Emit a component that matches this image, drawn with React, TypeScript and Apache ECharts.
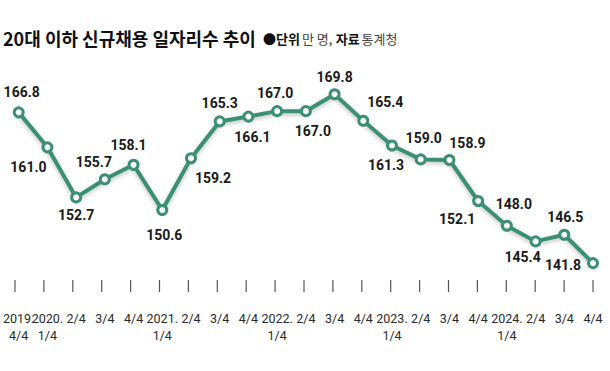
import React, { useEffect, useRef } from "react";
import * as echarts from "echarts";

const categories = [
  "2019.\n4/4", "2020.\n1/4", "2/4", "3/4", "4/4",
  "2021.\n1/4", "2/4", "3/4", "4/4",
  "2022.\n1/4", "2/4", "3/4", "4/4",
  "2023.\n1/4", "2/4", "3/4", "4/4",
  "2024.\n1/4", "2/4", "3/4", "4/4",
];
const values = [
  166.8, 161.0, 152.7, 155.7, 158.1, 150.6, 159.2, 165.3, 166.1, 167.0, 167.0,
  169.8, 165.4, 161.3, 159.0, 158.9, 152.1, 148.0, 145.4, 146.5, 141.8,
];
// label offsets (dx, dy) of each value label from its point
const labelOffsets: [number, number][] = [
  [3, -20], [-19, 20], [0, 18], [-11, -17], [-5, -20], [2, 25], [22, 20],
  [0, -18], [4, 20], [-2, -18], [7, 20], [0, -17], [22, -19], [-6, 19],
  [3, -21], [18, -17], [-21, 18], [7, -22], [-13, 16], [1, -18], [-30, 2],
];
const titleText = "20대 이하 신규채용 일자리수 추이";

const GREEN = "#3a8f74";
const KR_FONT = "'Noto Sans CJK KR', sans-serif";
const NUM_FONT = "Roboto, 'Liberation Sans', sans-serif";

export default function App() {
  const ref = useRef<HTMLDivElement>(null);
  useEffect(() => {
    if (!ref.current) return;
    const chart = echarts.init(ref.current, null, { renderer: "svg" });
    chart.setOption({
      animation: false,
      backgroundColor: "#ffffff",
      graphic: [
        {
          type: "text",
          left: 3,
          top: 29,
          style: {
            text: titleText,
            fontFamily: KR_FONT,
            fontWeight: "bold",
            fontSize: 18,
            fill: "#111",
          },
        },
        {
          type: "text",
          left: 263,
          top: 32,
          style: {
            text: "{b|●단위}{r|만 명,} {b|자료}{r|통계청}",
            rich: {
              b: { fontFamily: KR_FONT, fontWeight: "bold", fontSize: 13, fill: "#111" },
              r: { fontFamily: KR_FONT, fontWeight: "normal", fontSize: 13, fill: "#444", padding: [0, 0, 0, 2] },
            },
          },
        },
      ],
      grid: [
        { left: 15, right: 17, top: 81, bottom: 91, containLabel: false },
        { left: 15, right: 17, top: 280, height: 12, containLabel: false },
      ],
      xAxis: [
        {
          type: "category",
          gridIndex: 0,
          data: categories,
          boundaryGap: false,
          axisLine: { show: false },
          axisTick: { show: false },
          axisLabel: {
            interval: 0,
            margin: 30,
            fontFamily: NUM_FONT,
            fontSize: 12.5,
            lineHeight: 17,
            color: "#2a2a2a",
          },
          splitLine: { show: false },
        },
        {
          type: "category",
          gridIndex: 1,
          data: categories,
          boundaryGap: false,
          axisLine: { show: false },
          axisTick: { show: false },
          axisLabel: { show: false },
          splitLine: { show: false },
        },
      ],
      yAxis: [
        {
          type: "value",
          gridIndex: 0,
          min: 139,
          max: 172,
          show: false,
          splitLine: { show: false },
        },
        {
          type: "value",
          gridIndex: 1,
          min: 0,
          max: 1,
          show: false,
          splitLine: { show: false },
        },
      ],
      series: [
        {
          type: "bar",
          xAxisIndex: 1,
          yAxisIndex: 1,
          data: categories.map(() => 1),
          barWidth: 1.2,
          itemStyle: { color: "#555555" },
          silent: true,
        },
        {
          type: "line",
          xAxisIndex: 0,
          yAxisIndex: 0,
          data: values.map((v, i) => ({
            value: v,
            label: { offset: labelOffsets[i] },
          })),
          symbol: "circle",
          symbolSize: 9,
          lineStyle: {
            color: GREEN,
            width: 4,
            shadowColor: "rgba(0,0,0,0.25)",
            shadowBlur: 4,
            shadowOffsetY: 2,
          },
          itemStyle: { color: "#ffffff", borderColor: GREEN, borderWidth: 3 },
          label: {
            show: true,
            position: "inside",
            formatter: (p: any) => Number(p.value).toFixed(1),
            fontFamily: NUM_FONT,
            fontWeight: "bold",
            fontSize: 14,
            color: "#1a1a1a",
          },
          z: 3,
        },
      ],
    });
    return () => chart.dispose();
  }, []);
  return (
    <div
      ref={ref}
      style={{ position: "fixed", left: 0, top: 0, width: 610, height: 371 }}
    />
  );
}
